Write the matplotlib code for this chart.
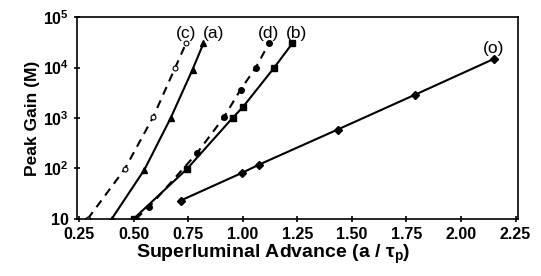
import matplotlib.pyplot as plt
import matplotlib as mpl

plt.rcParams['font.family'] = ['Liberation Sans', 'DejaVu Sans']
plt.rcParams['mathtext.fontset'] = 'custom'
plt.rcParams['mathtext.rm'] = 'Liberation Sans'
plt.rcParams['mathtext.bf'] = 'Liberation Sans:bold'
plt.rcParams['mathtext.it'] = 'Liberation Sans:italic'

# Data
c_x = [0.29, 0.46, 0.59, 0.69, 0.74]
c_y = [10, 98, 1050, 9800, 30000]

a_x = [0.40, 0.55, 0.67, 0.77, 0.82]
a_y = [10, 95, 1000, 9100, 30000]

d_x = [0.51, 0.57, 0.79, 0.915, 0.99, 1.06, 1.12]
d_y = [10, 17, 200, 1050, 3640, 10000, 30000]

b_x = [0.50, 0.745, 0.955, 1.00, 1.143, 1.227]
b_y = [10, 98, 1020, 1630, 9800, 30000]

o_x = [0.715, 0.995, 1.075, 1.435, 1.79, 2.15]
o_y = [23, 81, 119, 590, 2900, 14800]

labels = ['(c)', '(a)', '(d)', '(b)', '(o)']
label_dx = [0, 7, 0, 3, 0]

fig = plt.figure(figsize=(5.41, 2.76), dpi=100)
ax = fig.add_axes([0.142, 0.207, 0.815, 0.731])

ax.plot(c_x, c_y, 'k--', lw=1.5, dashes=(4, 3), marker='o', ms=3.5, mfc='white', mew=0.8)
ax.plot(a_x, a_y, 'k-', lw=1.5, marker='^', ms=4)
ax.plot(d_x, d_y, 'k--', lw=1.5, dashes=(4, 3), marker='o', ms=4)
ax.plot(b_x, b_y, 'k-', lw=1.5, marker='s', ms=4.5)
ax.plot(o_x, o_y, 'k-', lw=1.5, marker='D', ms=4.5)

tops = [(c_x[-1], c_y[-1]), (a_x[-1], a_y[-1]), (d_x[-1], d_y[-1]),
        (b_x[-1], b_y[-1]), (o_x[-1], o_y[-1])]
for lab, (tx, ty), dx in zip(labels, tops, label_dx):
    ax.annotate(lab, (tx, ty), xytext=(dx, 2), textcoords='offset points',
                ha='center', va='bottom', fontsize=12.5)

ax.set_yscale('log')
ax.set_xlim(0.24, 2.26)
ax.set_ylim(10, 1e5)
ax.set_xticks([0.25, 0.5, 0.75, 1.0, 1.25, 1.5, 1.75, 2.0, 2.25])
ax.set_xticklabels(['0.25', '0.50', '0.75', '1.00', '1.25', '1.50', '1.75', '2.00', '2.25'],
                   fontweight='bold', fontsize=11.5)
ax.set_yticks([10, 100, 1000, 1e4, 1e5])
ax.set_yticklabels(['10', r'$\mathbf{10^2}$', r'$\mathbf{10^3}$', r'$\mathbf{10^4}$', r'$\mathbf{10^5}$'],
                   fontweight='bold', fontsize=11.5)
ax.yaxis.set_minor_locator(mpl.ticker.NullLocator())
ax.tick_params(axis='both', direction='inout', length=5, width=1.2, pad=3)

for s in ax.spines.values():
    s.set_linewidth(1.2)

ax.set_xlabel(r'Superluminal Advance (a / $\mathregular{\tau_p}$)', fontweight='bold', fontsize=14)
ax.xaxis.set_label_coords(0.445, -0.12)
ax.set_ylabel('Peak Gain (M)', fontweight='bold', fontsize=12.5, labelpad=2)

fig.savefig('out.png', dpi=100)
